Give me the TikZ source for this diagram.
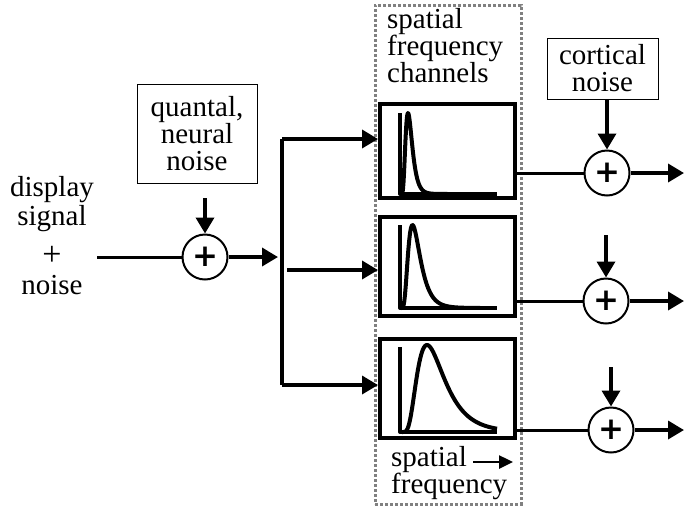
\documentclass[tikz,border=0pt]{standalone}
\usepackage{fontspec}
\setmainfont{Liberation Serif}
\newfontfamily\plusfont{DejaVu Sans}
\usetikzlibrary{arrows.meta}
\begin{document}
\begin{tikzpicture}[x=1pt,y=-1pt,
  txt/.style={font=\fontsize{29}{27}\selectfont, inner sep=0pt, align=center},
  noisebox/.style={draw, line width=1pt, txt},
  sum/.style={circle, draw, line width=2pt, minimum size=45pt, inner sep=0pt,
    font=\plusfont\bfseries\fontsize{31}{31}\selectfont},
  arr/.style={line width=3.5pt, -{Triangle[length=16pt,width=18pt]}},
  bus/.style={line width=3.5pt},
  outl/.style={line width=3pt},
  chan/.style={draw, line width=4pt, minimum width=135pt, inner sep=0pt},
  curve/.style={line width=4pt, line join=round},
  frame/.style={draw=black!50, line width=3pt, dash pattern=on 3pt off 2pt}]
\useasboundingbox (0,0) rectangle (684,507);

% input label
\node[txt, anchor=north, font=\fontsize{29}{29.5}\selectfont] (inp) at (52,176) {display\\signal\\[10pt]{\fontsize{34}{34}\selectfont+}\\noise};

% first summation
\node[noisebox, minimum width=120pt, minimum height=99pt] (qn) at (197,133.5) {quantal,\\neural\\noise};
\node[sum] (q) at (205,257) {+};
\coordinate (qin) at (97,257);
\coordinate (qtop) at (205,198);
\draw[line width=3pt] (qin) -- (q);
\draw[arr] (qtop) -- (q.north);

% bus
\coordinate (bt) at (282,139);
\coordinate (bb) at (282,385);
\coordinate (bm) at (287,270);
\coordinate (bin) at (278,257);
\draw[arr] (q.east) -- (bin);
\draw[bus] (bt) -- (bb);

% frame
\node[frame, minimum width=146pt, minimum height=499pt, inner sep=0pt] (fr) at (448,254.5) {};
\node[txt, anchor=base west, align=left] (hdr) at (387,82) {spatial\\frequency\\channels};

% channel boxes
\node[chan, minimum height=94pt] (c1) at (447.5,151) {};
\node[chan, minimum height=99pt] (c2) at (447.5,266.5) {};
\node[chan, minimum height=99pt] (c3) at (447.5,388.5) {};

\draw[arr] (bt) -- (bt -| c1.west);
\draw[arr] (bm) -- (bm -| c2.west);
\draw[arr] (bb) -- (bb -| c3.west);

% axes and tuning curves
\draw[curve] (400,113) -- (400,194) -- (497,194);
\draw[curve] plot[domain=401:460, samples=120, smooth] (\x, {194-81*exp(-(ln((\x-400)/8))^2/(2*0.42^2))});
\draw[curve] (400,225) -- (400,308) -- (497,308);
\draw[curve] plot[domain=401:480, samples=120, smooth] (\x, {308-83*exp(-(ln((\x-400)/12.5))^2/(2*0.48^2))});
\draw[curve] (400,347) -- (400,432) -- (497,432);
\draw[curve] plot[domain=402:497, samples=120, smooth] (\x, {432-87*exp(-(ln((\x-400)/27))^2/(2*0.5^2))});

% bottom label
\node[txt, anchor=base west, align=left] (ax) at (391,493) {spatial\\frequency};
\coordinate (axa) at (473,462);
\coordinate (axb) at (513,462);
\draw[line width=2.5pt, -{Triangle[length=14pt,width=13pt]}] (axa) -- (axb);

% outputs
\node[noisebox, minimum width=111pt, minimum height=61pt] (cn) at (602.5,68.5) {cortical\\noise};
\node[sum] (s1) at (607,173) {+};
\node[sum] (s2) at (606,301) {+};
\node[sum] (s3) at (611,430) {+};

\draw[outl] (c1.east |- s1) -- (s1);
\draw[outl] (c2.east |- s2) -- (s2);
\draw[outl] (c3.east |- s3) -- (s3);

\coordinate (o1) at (684,173);
\coordinate (o2) at (684,301);
\coordinate (o3) at (684,430);
\draw[arr] (s1) -- (o1);
\draw[arr] (s2) -- (o2);
\draw[arr] (s3) -- (o3);

\draw[arr] (cn.south -| s1) -- (s1.north);
\coordinate (n2) at (606,235);
\coordinate (n3) at (611,367);
\draw[arr] (n2) -- (s2.north);
\draw[arr] (n3) -- (s3.north);
\end{tikzpicture}
\end{document}
